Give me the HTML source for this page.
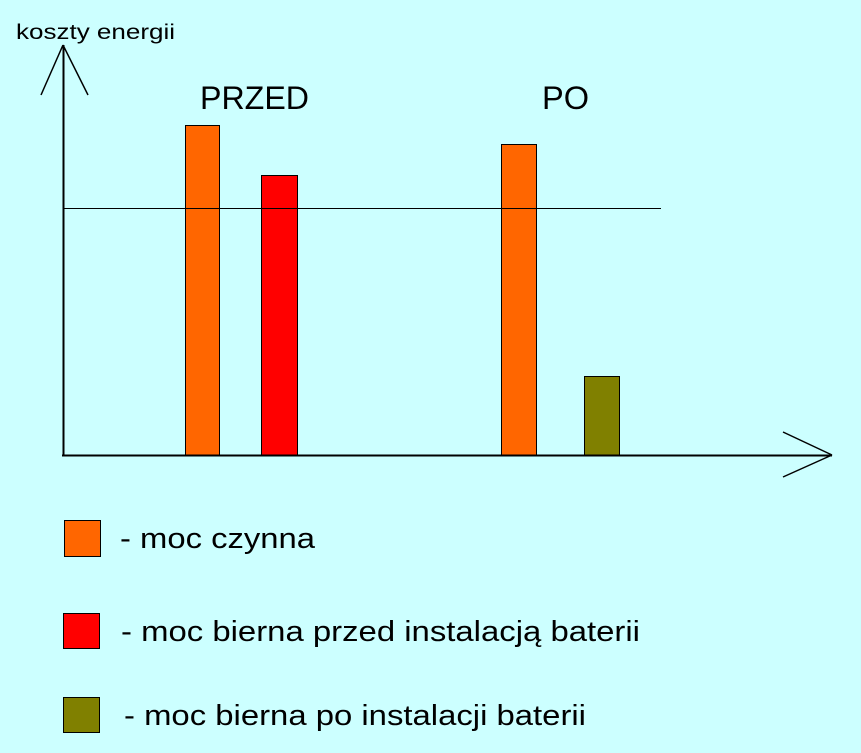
<!DOCTYPE html>
<html><head><meta charset="utf-8"><style>
html,body{margin:0;padding:0;background:#CCFFFF;}
svg{display:block}
text{font-family:"Liberation Sans",Arial,sans-serif;fill:#000}
</style></head><body>
<svg width="861" height="753" viewBox="0 0 861 753">
<rect width="861" height="753" fill="#CCFFFF"/>
<text x="16" y="39" font-size="21" textLength="159" lengthAdjust="spacingAndGlyphs">koszty energii</text>
<text x="200" y="109" font-size="32" textLength="109" lengthAdjust="spacingAndGlyphs">PRZED</text>
<text x="542" y="109" font-size="32" textLength="47" lengthAdjust="spacingAndGlyphs">PO</text>
<g stroke="#000" stroke-width="1">
<rect x="185.5" y="125.5" width="34" height="330" fill="#FF6600"/>
<rect x="261.5" y="175.5" width="36" height="280" fill="#FF0000"/>
<rect x="501.5" y="144.5" width="35" height="311" fill="#FF6600"/>
<rect x="584.5" y="376.5" width="35" height="79" fill="#808000"/>
<line x1="63" y1="208.5" x2="661" y2="208.5"/>
<line x1="41" y1="95" x2="63" y2="45" stroke-width="1.5"/>
<line x1="88" y1="95" x2="63" y2="45" stroke-width="1.5"/>
<line x1="783" y1="432" x2="832" y2="455" stroke-width="1.5"/>
<line x1="783" y1="477" x2="832" y2="455" stroke-width="1.5"/>
<rect x="64.5" y="520.5" width="36" height="36" fill="#FF6600"/>
<rect x="63.5" y="613.5" width="36" height="35" fill="#FF0000"/>
<rect x="63.5" y="697.5" width="36" height="35" fill="#808000"/>
</g>
<line x1="63.5" y1="45" x2="63.5" y2="456" stroke="#000" stroke-width="2"/>
<line x1="62" y1="455.5" x2="832" y2="455.5" stroke="#000" stroke-width="2"/>
<text x="120" y="548" font-size="29" textLength="195" lengthAdjust="spacingAndGlyphs">- moc czynna</text>
<text x="121" y="641" font-size="29" textLength="519" lengthAdjust="spacingAndGlyphs">- moc bierna przed instalacją baterii</text>
<text x="124" y="725" font-size="29" textLength="462" lengthAdjust="spacingAndGlyphs">- moc bierna po instalacji baterii</text>
</svg>
</body></html>
